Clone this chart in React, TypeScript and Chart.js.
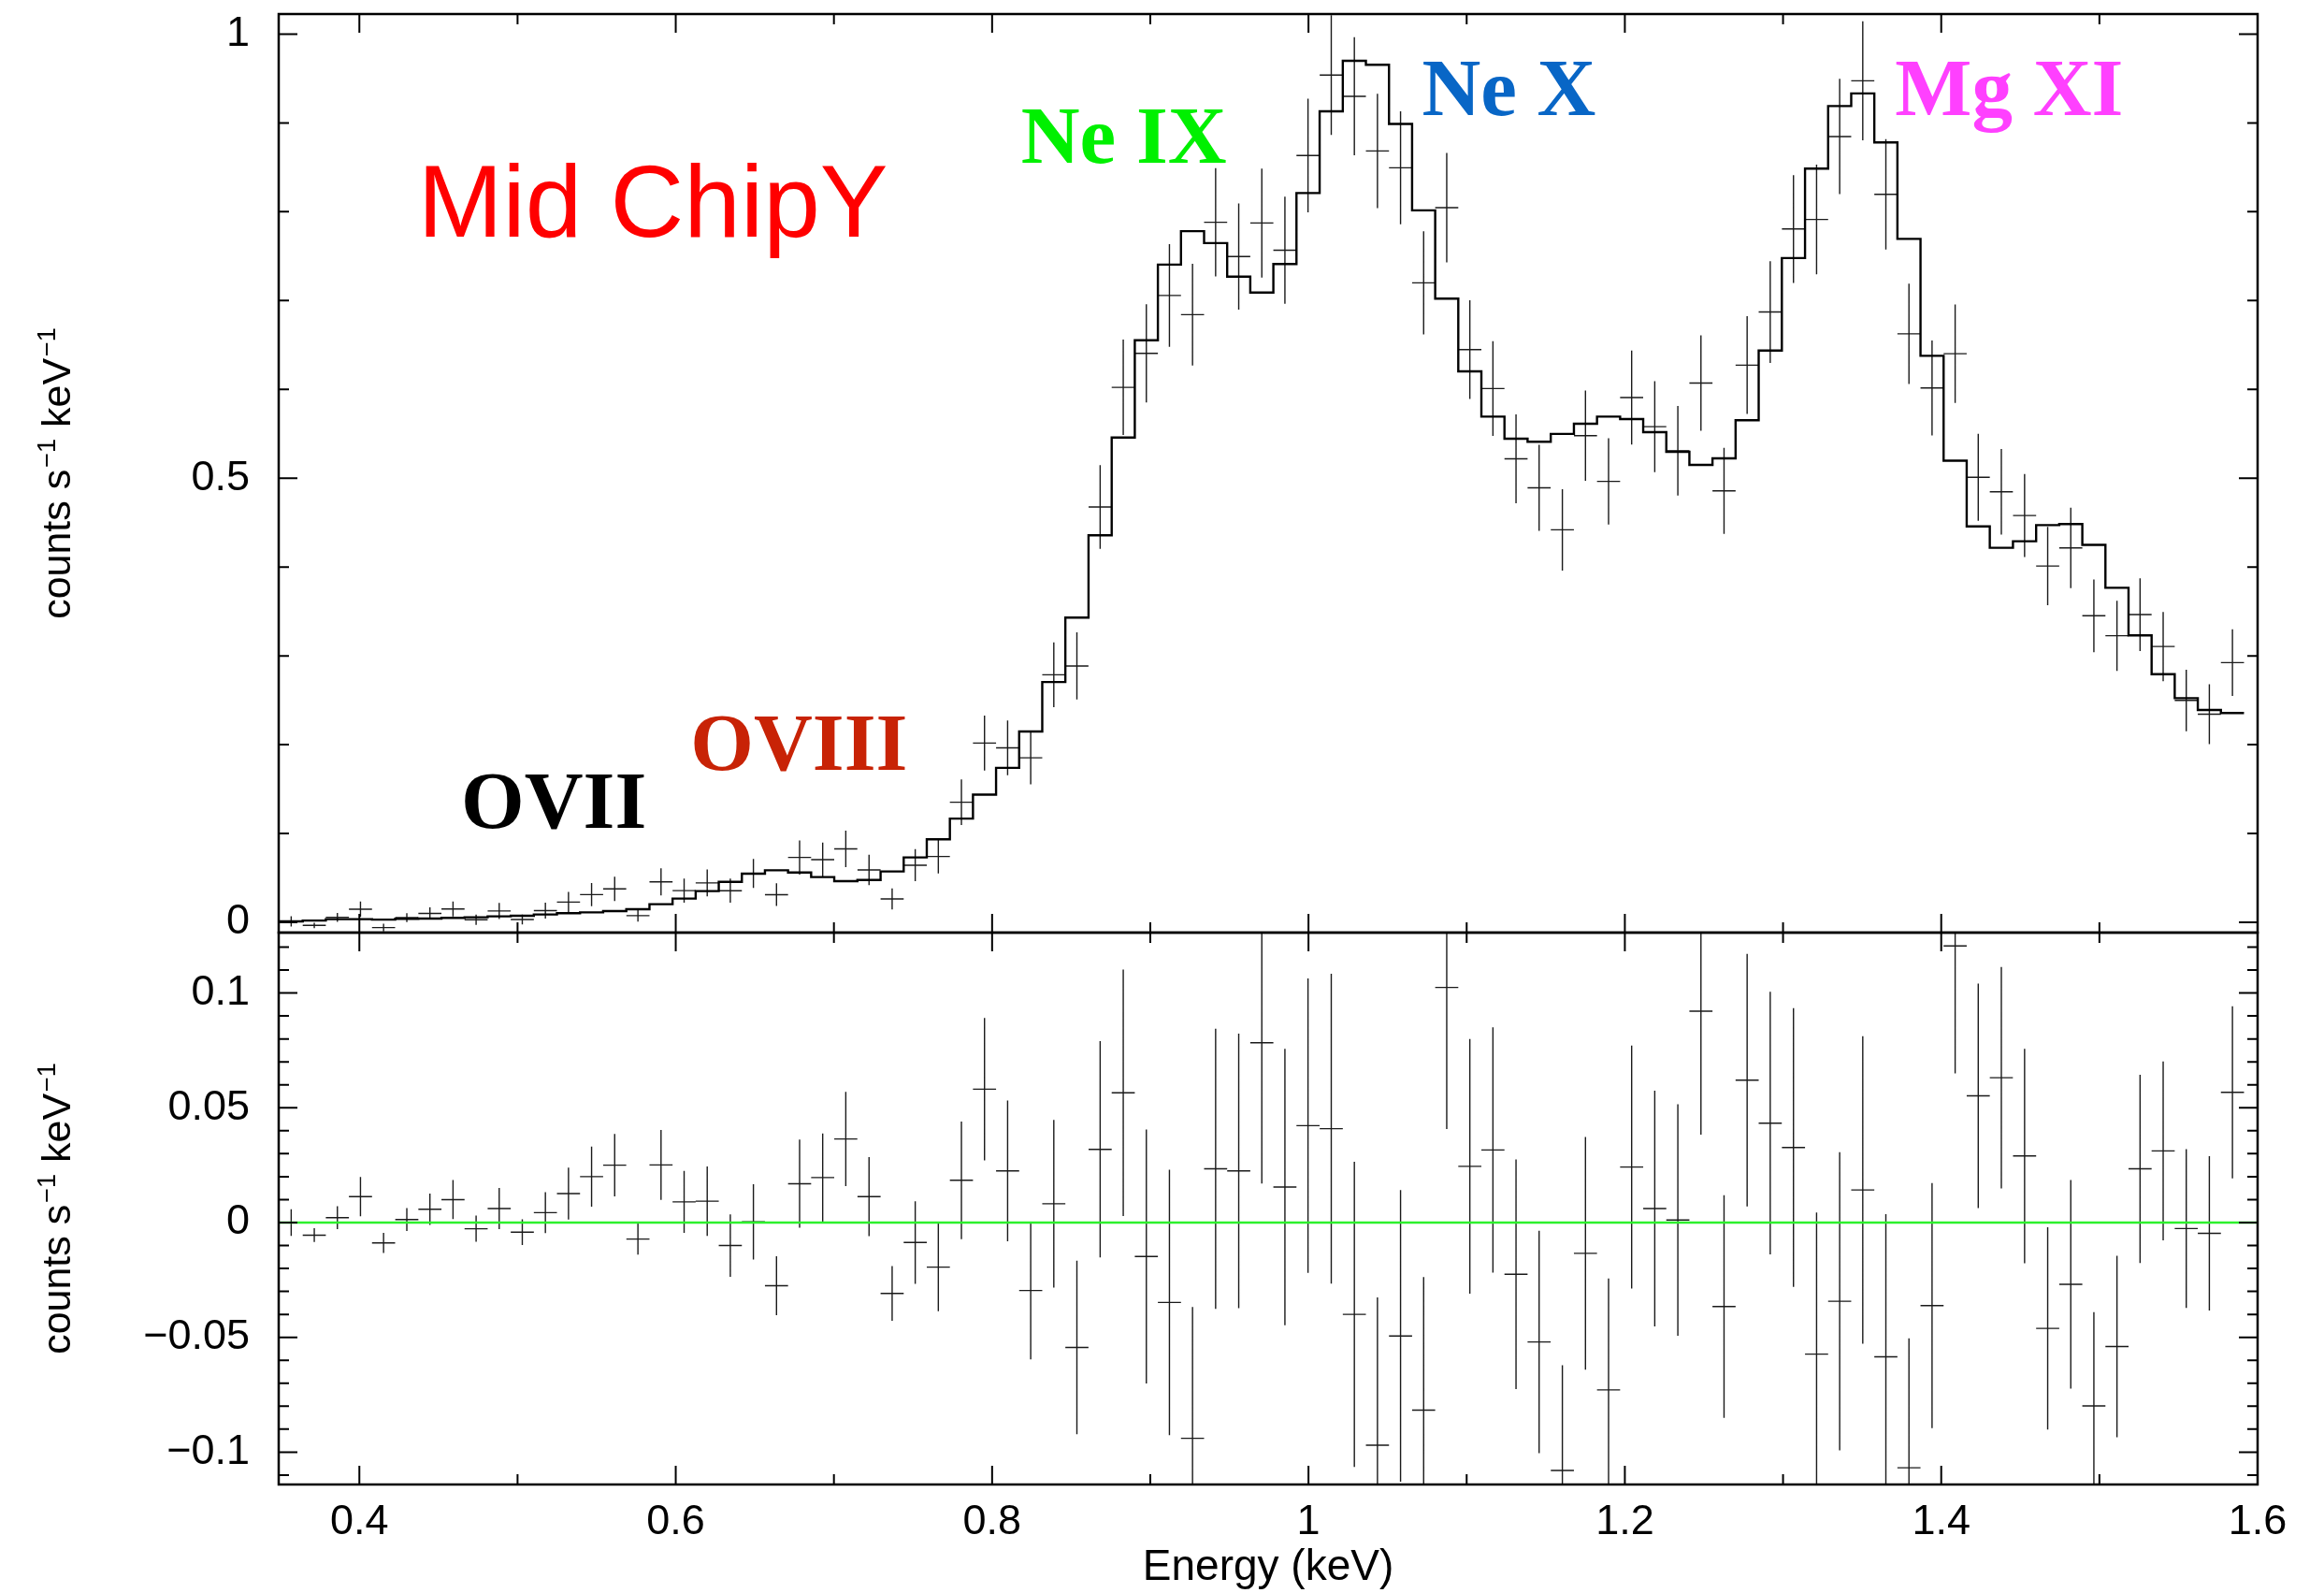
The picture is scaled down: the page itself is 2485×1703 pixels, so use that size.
import React, { useEffect, useRef } from 'react';
import { Chart, registerables } from 'chart.js';

Chart.register(...registerables);

// ---- data ----
const energy = [
  0.3569, 0.3715, 0.3861, 0.4007, 0.4153, 0.4300, 0.4446, 0.4592, 0.4738, 0.4884,
  0.5030, 0.5176, 0.5322, 0.5468, 0.5614, 0.5761, 0.5907, 0.6053, 0.6199, 0.6345,
  0.6491, 0.6637, 0.6783, 0.6929, 0.7075, 0.7222, 0.7368, 0.7514, 0.7660, 0.7806,
  0.7952, 0.8098, 0.8244, 0.8390, 0.8536, 0.8683, 0.8829, 0.8975, 0.9121, 0.9267,
  0.9413, 0.9559, 0.9705, 0.9851, 0.9997, 1.0144, 1.0290, 1.0436, 1.0582, 1.0728,
  1.0874, 1.1020, 1.1166, 1.1312, 1.1458, 1.1605, 1.1751, 1.1897, 1.2043, 1.2189,
  1.2335, 1.2481, 1.2627, 1.2773, 1.2919, 1.3066, 1.3212, 1.3358, 1.3504, 1.3650,
  1.3796, 1.3942, 1.4088, 1.4234, 1.4380, 1.4527, 1.4673, 1.4819, 1.4965, 1.5111,
  1.5257, 1.5403, 1.5549, 1.5695, 1.5841,
];
const binHalfWidth = 0.0073;

const model = [
  0.0010, 0.0020, 0.0035, 0.0035, 0.0030, 0.0040, 0.0042, 0.0050, 0.0056, 0.0067,
  0.0074, 0.0088, 0.0102, 0.0112, 0.0126, 0.0147, 0.0204, 0.0267, 0.0351, 0.0456,
  0.0547, 0.0586, 0.0561, 0.0509, 0.0463, 0.0477, 0.0572, 0.0730, 0.0935, 0.1168,
  0.1437, 0.1739, 0.2148, 0.2705, 0.3430, 0.4357, 0.5458, 0.6553, 0.7405, 0.7781,
  0.7647, 0.7270, 0.7090, 0.7412, 0.8211, 0.9130, 0.9700, 0.9654, 0.8989, 0.8016,
  0.7022, 0.6203, 0.5693, 0.5444, 0.5411, 0.5499, 0.5613, 0.5693, 0.5666, 0.5519,
  0.5297, 0.5150, 0.5223, 0.5653, 0.6438, 0.7479, 0.8486, 0.9190, 0.9332, 0.8781,
  0.7694, 0.6378, 0.5197, 0.4458, 0.4216, 0.4290, 0.4472, 0.4484, 0.4250, 0.3766,
  0.3230, 0.2793, 0.2524, 0.2390, 0.2357,
];

const counts = [
  0.0010, -0.0035, 0.0056, 0.0148, -0.0059, 0.0053, 0.0100, 0.0150, 0.0029, 0.0128,
  0.0032, 0.0131, 0.0228, 0.0312, 0.0376, 0.0075, 0.0455, 0.0357, 0.0444, 0.0356,
  0.0550, 0.0311, 0.0730, 0.0705, 0.0827, 0.0590, 0.0263, 0.0643, 0.0741, 0.1352,
  0.2018, 0.1964, 0.1852, 0.2787, 0.2886, 0.4676, 0.6023, 0.6405, 0.7057, 0.6841,
  0.7881, 0.7495, 0.7873, 0.7567, 0.8633, 0.9539, 0.9300, 0.8684, 0.8495, 0.7199,
  0.8046, 0.6448, 0.6009, 0.5219, 0.4891, 0.4419, 0.5479, 0.4964, 0.5908, 0.5580,
  0.5308, 0.6071, 0.4857, 0.6273, 0.6871, 0.7806, 0.7913, 0.8847, 0.9474, 0.8196,
  0.6626, 0.6016, 0.6402, 0.5010, 0.4847, 0.4580, 0.4011, 0.4215, 0.3451, 0.3226,
  0.3464, 0.3105, 0.2498, 0.2343, 0.2924,
];

const residual = [
  0.0000, -0.0055, 0.0021, 0.0113, -0.0089, 0.0013, 0.0058, 0.0100, -0.0027, 0.0061,
  -0.0042, 0.0043, 0.0126, 0.0200, 0.0250, -0.0072, 0.0251, 0.0090, 0.0093, -0.0100,
  0.0003, -0.0275, 0.0169, 0.0196, 0.0364, 0.0113, -0.0309, -0.0087, -0.0194, 0.0184,
  0.0581, 0.0225, -0.0296, 0.0082, -0.0544, 0.0319, 0.0565, -0.0148, -0.0348, -0.0940,
  0.0234, 0.0225, 0.0783, 0.0155, 0.0422, 0.0409, -0.0400, -0.0970, -0.0494, -0.0817,
  0.1024, 0.0245, 0.0316, -0.0225, -0.0520, -0.1080, -0.0134, -0.0729, 0.0242, 0.0061,
  0.0011, 0.0921, -0.0366, 0.0620, 0.0433, 0.0327, -0.0573, -0.0343, 0.0142, -0.0585,
  -0.1068, -0.0362, 0.1205, 0.0552, 0.0631, 0.0290, -0.0461, -0.0269, -0.0799, -0.0540,
  0.0234, 0.0312, -0.0026, -0.0047, 0.0567,
];

const errors = [
  0.0058, 0.0030, 0.0050, 0.0086, 0.0044, 0.0050, 0.0068, 0.0085, 0.0057, 0.0090,
  0.0056, 0.0089, 0.0113, 0.0131, 0.0136, 0.0068, 0.0152, 0.0135, 0.0151, 0.0136,
  0.0164, 0.0128, 0.0192, 0.0192, 0.0205, 0.0172, 0.0119, 0.0180, 0.0192, 0.0256,
  0.0310, 0.0307, 0.0300, 0.0365, 0.0378, 0.0471, 0.0537, 0.0553, 0.0578, 0.0572,
  0.0610, 0.0598, 0.0613, 0.0602, 0.0641, 0.0675, 0.0665, 0.0644, 0.0635, 0.0580,
  0.0617, 0.0555, 0.0534, 0.0500, 0.0484, 0.0458, 0.0507, 0.0485, 0.0529, 0.0513,
  0.0504, 0.0538, 0.0485, 0.0550, 0.0572, 0.0607, 0.0617, 0.0649, 0.0670, 0.0622,
  0.0564, 0.0534, 0.0555, 0.0489, 0.0482, 0.0467, 0.0441, 0.0454, 0.0409, 0.0395,
  0.0410, 0.0390, 0.0346, 0.0336, 0.0375,
];

const xTickValues = [0.4, 0.6, 0.8, 1, 1.2, 1.4, 1.6];
const xTickLabels = ['0.4', '0.6', '0.8', '1', '1.2', '1.4', '1.6'];
const xMinorTicks = [0.5, 0.7, 0.9, 1.1, 1.3, 1.5];
const yTopTickValues = [0, 0.5, 1];
const yTopTickLabels = ['0', '0.5', '1'];
const yTopMinorTicks = [0.1, 0.2, 0.3, 0.4, 0.6, 0.7, 0.8, 0.9];
const yBotTickValues = [-0.1, -0.05, 0, 0.05, 0.1];
const yBotTickLabels = ['\u22120.1', '\u22120.05', '0', '0.05', '0.1'];

const lineNames = ['OVII', 'OVIII', 'Ne IX', 'Ne X', 'Mg XI'];
const panelName = 'Mid ChipY';
const xTitle = 'Energy (keV)';

// ---- annotation placement / style (not data) ----
const lineNameAnchors = [
  { e: 0.4643, v: 0.1063, color: '#000000' },
  { e: 0.6093, v: 0.1719, color: '#c82306' },
  { e: 0.8183, v: 0.8547, color: '#00f000' },
  { e: 1.0717, v: 0.9084, color: '#0866c6' },
  { e: 1.3708, v: 0.9084, color: '#ff40ff' },
];
const panelNameAnchor = { e: 0.4369, v: 0.7721, color: '#ff0000' };

const SANS = '"Liberation Sans", Arial, Helvetica, sans-serif';
const SERIF = '"Liberation Serif", "Times New Roman", Times, serif';

function crossPoints(ys: number[], errs: number[]) {
  const pts: { x: number; y: number | null }[] = [];
  energy.forEach((e, i) => {
    pts.push({ x: e - binHalfWidth, y: ys[i] });
    pts.push({ x: e + binHalfWidth, y: ys[i] });
    pts.push({ x: e, y: null });
    pts.push({ x: e, y: ys[i] - errs[i] });
    pts.push({ x: e, y: ys[i] + errs[i] });
    pts.push({ x: e, y: null });
  });
  return pts;
}

function modelPoints() {
  const pts = energy.map((e, i) => ({ x: e, y: model[i] }));
  pts.unshift({ x: energy[0] - binHalfWidth, y: model[0] });
  pts.push({ x: energy[energy.length - 1] + binHalfWidth, y: model[model.length - 1] });
  return pts;
}

const panelClip = {
  id: 'panelClip',
  beforeDatasetDraw(chart: any, args: any) {
    const ys = args.meta.yScale;
    const a = chart.chartArea;
    const ctx = chart.ctx;
    ctx.save();
    ctx.beginPath();
    ctx.rect(a.left, ys.top, a.right - a.left, ys.bottom - ys.top);
    ctx.clip();
  },
  afterDatasetDraw(chart: any) {
    chart.ctx.restore();
  },
};

function drawYTitle(ctx: CanvasRenderingContext2D, baseX: number, cy: number) {
  const size = 43;
  const sup = 27;
  const parts: { t: string; s: boolean }[] = [
    { t: 'counts s', s: false },
    { t: '\u22121', s: true },
    { t: ' keV', s: false },
    { t: '\u22121', s: true },
  ];
  ctx.save();
  ctx.translate(baseX, cy);
  ctx.rotate(-Math.PI / 2);
  ctx.fillStyle = '#000';
  ctx.textBaseline = 'alphabetic';
  ctx.textAlign = 'left';
  let total = 0;
  parts.forEach((p) => {
    ctx.font = `${p.s ? sup : size}px ${SANS}`;
    total += ctx.measureText(p.t).width + (p.s ? 2 : 0);
  });
  let x = -total / 2;
  parts.forEach((p) => {
    ctx.font = `${p.s ? sup : size}px ${SANS}`;
    ctx.fillText(p.t, x + (p.s ? 2 : 0), p.s ? -16 : 0);
    x += ctx.measureText(p.t).width + (p.s ? 2 : 0);
  });
  ctx.restore();
}

const decorations = {
  id: 'decorations',
  afterDraw(chart: any) {
    const ctx: CanvasRenderingContext2D = chart.ctx;
    const xs = chart.scales.x;
    const yt = chart.scales.y;
    const yb = chart.scales.y2;
    const L = chart.chartArea.left;
    const R = chart.chartArea.right;
    const MAJ = 20;
    const MIN = 11;
    ctx.save();
    ctx.strokeStyle = '#000';
    ctx.lineWidth = 2;
    ctx.beginPath();
    const vtick = (x: number, y: number, len: number) => {
      ctx.moveTo(x, y);
      ctx.lineTo(x, y + len);
    };
    const htick = (x: number, y: number, len: number) => {
      ctx.moveTo(x, y);
      ctx.lineTo(x + len, y);
    };
    [yt, yb].forEach((ys: any) => {
      xTickValues.forEach((v) => {
        const px = xs.getPixelForValue(v);
        vtick(px, ys.top, MAJ);
        vtick(px, ys.bottom, -MAJ);
      });
      xMinorTicks.forEach((v) => {
        const px = xs.getPixelForValue(v);
        vtick(px, ys.top, MIN);
        vtick(px, ys.bottom, -MIN);
      });
    });
    yTopTickValues.forEach((v) => {
      const py = yt.getPixelForValue(v);
      htick(L, py, MAJ);
      htick(R, py, -MAJ);
    });
    yTopMinorTicks.forEach((v) => {
      const py = yt.getPixelForValue(v);
      htick(L, py, MIN);
      htick(R, py, -MIN);
    });
    for (let k = -11; k <= 12; k++) {
      const v = k / 100;
      const major = k % 5 === 0;
      const py = yb.getPixelForValue(v);
      htick(L, py, major ? MAJ : MIN);
      htick(R, py, major ? -MAJ : -MIN);
    }
    ctx.stroke();

    ctx.lineWidth = 2.5;
    ctx.strokeRect(L, yt.top, R - L, yt.bottom - yt.top);
    ctx.strokeRect(L, yb.top, R - L, yb.bottom - yb.top);

    // axis titles
    ctx.fillStyle = '#000';
    ctx.font = `46px ${SANS}`;
    ctx.textAlign = 'center';
    ctx.textBaseline = 'alphabetic';
    ctx.fillText(xTitle, (L + R) / 2, 1689);
    drawYTitle(ctx, 75, (yt.top + yt.bottom) / 2);
    drawYTitle(ctx, 75, (yb.top + yb.bottom) / 2);

    // panel name
    ctx.textAlign = 'left';
    ctx.font = `109px ${SANS}`;
    ctx.fillStyle = panelNameAnchor.color;
    ctx.fillText(panelName, xs.getPixelForValue(panelNameAnchor.e), yt.getPixelForValue(panelNameAnchor.v));

    // line names
    ctx.font = `bold 87px ${SERIF}`;
    lineNames.forEach((name, i) => {
      const a = lineNameAnchors[i];
      ctx.fillStyle = a.color;
      ctx.fillText(name, xs.getPixelForValue(a.e), yt.getPixelForValue(a.v));
    });
    ctx.restore();
  },
};

export default function App() {
  const ref = useRef<HTMLCanvasElement | null>(null);
  useEffect(() => {
    document.body.style.margin = '0';
    document.body.style.overflow = 'hidden';
    const canvas = ref.current;
    if (!canvas) return;
    const tickFont = { family: SANS, size: 45 };
    const chart = new Chart(canvas, {
      type: 'line',
      data: {
        datasets: [
          {
            label: 'model',
            data: modelPoints(),
            yAxisID: 'y',
            borderColor: '#000',
            borderWidth: 2.4,
            pointRadius: 0,
            stepped: 'middle',
            fill: false,
          },
          {
            label: 'data',
            data: crossPoints(counts, errors),
            yAxisID: 'y',
            borderColor: '#1a1a1a',
            borderWidth: 1.4,
            pointRadius: 0,
            spanGaps: false,
            fill: false,
          },
          {
            label: 'zero',
            data: [{ x: 0.349, y: 0 }, { x: 1.6, y: 0 }],
            yAxisID: 'y2',
            borderColor: '#2cf02c',
            borderWidth: 2.4,
            pointRadius: 0,
            fill: false,
          },
          {
            label: 'residual',
            data: crossPoints(residual, errors),
            yAxisID: 'y2',
            borderColor: '#1a1a1a',
            borderWidth: 1.4,
            pointRadius: 0,
            spanGaps: false,
            fill: false,
          },
        ] as any,
      },
      options: {
        animation: false,
        responsive: false,
        devicePixelRatio: 1,
        events: [],
        layout: { padding: { top: 15, right: 71, left: 0, bottom: 0 } },
        plugins: { legend: { display: false }, tooltip: { enabled: false } },
        scales: {
          x: {
            type: 'linear',
            position: 'bottom',
            min: 0.349,
            max: 1.6,
            grid: { display: false, drawTicks: false },
            border: { display: false },
            ticks: {
              font: tickFont,
              color: '#000',
              padding: 14,
              maxRotation: 0,
              autoSkip: false,
              callback: (_v: any, i: number) => xTickLabels[i],
            },
            afterBuildTicks: (s: any) => {
              s.ticks = xTickValues.map((v) => ({ value: v }));
            },
            afterFit: (s: any) => {
              s.height = 116;
              s.paddingLeft = 0;
              s.paddingRight = 0;
            },
          },
          y: {
            type: 'linear',
            position: 'left',
            stack: 'panels',
            stackWeight: 982,
            weight: 2,
            min: -0.0116,
            max: 1.0226,
            grid: { display: false, drawTicks: false },
            border: { display: false },
            ticks: {
              font: tickFont,
              color: '#000',
              padding: 31,
              autoSkip: false,
              callback: (_v: any, i: number) => yTopTickLabels[i],
            },
            afterBuildTicks: (s: any) => {
              s.ticks = yTopTickValues.map((v) => ({ value: v }));
            },
            afterFit: (s: any) => {
              s.width = 298;
              s.paddingTop = 0;
              s.paddingBottom = 0;
            },
          },
          y2: {
            type: 'linear',
            position: 'left',
            stack: 'panels',
            stackWeight: 590,
            weight: 1,
            min: -0.1141,
            max: 0.1263,
            grid: { display: false, drawTicks: false },
            border: { display: false },
            ticks: {
              font: tickFont,
              color: '#000',
              padding: 31,
              autoSkip: false,
              callback: (_v: any, i: number) => yBotTickLabels[i],
            },
            afterBuildTicks: (s: any) => {
              s.ticks = yBotTickValues.map((v) => ({ value: v }));
            },
            afterFit: (s: any) => {
              s.width = 298;
              s.paddingTop = 0;
              s.paddingBottom = 0;
            },
          },
        },
      } as any,
      plugins: [panelClip, decorations],
    });
    return () => chart.destroy();
  }, []);
  return <canvas ref={ref} width={2485} height={1703} style={{ display: 'block' }} />;
}
